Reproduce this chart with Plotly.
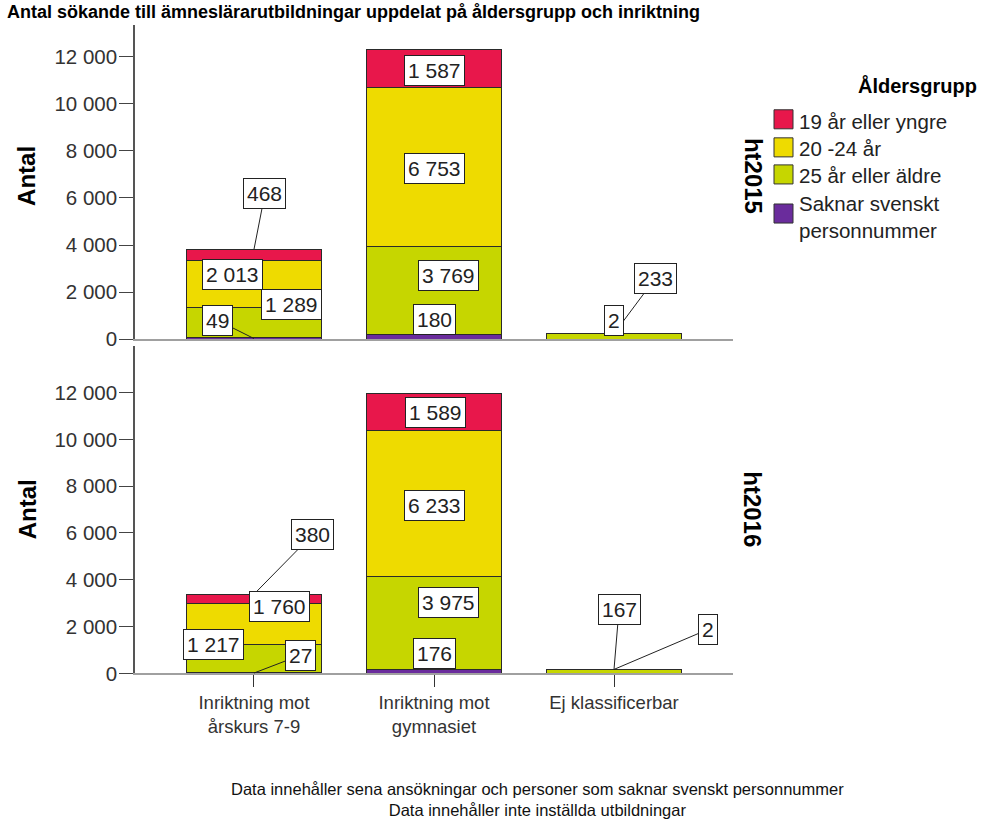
import plotly.graph_objects as go

# ---------------- data ----------------
categories = ["Inriktning mot<br>årskurs 7-9", "Inriktning mot<br>gymnasiet", "Ej klassificerbar"]
periods = ["ht2015", "ht2016"]
age_groups = ["Saknar svenskt personnummer", "25 år eller äldre", "20 -24 år", "19 år eller yngre"]  # bottom -> top
legend_labels = ["19 år eller yngre", "20 -24 år", "25 år eller äldre", "Saknar svenskt<br>personnummer"]

saknar_2015 = [49, 180, 0]
age25_2015 = [1289, 3769, 233]
age20_2015 = [2013, 6753, 2]
age19_2015 = [468, 1587, 0]

saknar_2016 = [27, 176, 0]
age25_2016 = [1217, 3975, 167]
age20_2016 = [1760, 6233, 2]
age19_2016 = [380, 1589, 0]

y_ticks = [0, 2000, 4000, 6000, 8000, 10000, 12000]

title_text = "Antal sökande till ämneslärarutbildningar uppdelat på åldersgrupp och inriktning"
note_text = ("Data innehåller sena ansökningar och personer som saknar svenskt personnummer<br>"
             "Data innehåller inte inställda utbildningar")

# ---------------- styling ----------------
W = 994
H_TARGET = 821
H = 834          # the snapshot squeezes the page height slightly; compensate


def px(page_x):
    return page_x / W


def py(page_y):
    return 1 - page_y / H_TARGET


colors = {
    "Saknar svenskt personnummer": "#6A2C9C",
    "25 år eller äldre": "#C6D600",
    "20 -24 år": "#EEDB00",
    "19 år eller yngre": "#E8174B",
}
legend_colors = [colors["19 år eller yngre"], colors["20 -24 år"], colors["25 år eller äldre"],
                 colors["Saknar svenskt personnummer"]]
FONT = "Arial, Liberation Sans, sans-serif"

series = {
    "ht2015": [saknar_2015, age25_2015, age20_2015, age19_2015],
    "ht2016": [saknar_2016, age25_2016, age20_2016, age19_2016],
}

# label placement: (period, category index, group index) -> (anchor, arrow, dx, dy) in pixels
label_pos = {
    ("ht2015", 0, 3): ("top", True, 11, -56),
    ("ht2015", 0, 2): ("mid", False, -21, -9),
    ("ht2015", 0, 1): ("mid", False, 38, -18),
    ("ht2015", 0, 0): ("mid", True, -36, -18),
    ("ht2015", 1, 3): ("mid", False, 0, 2),
    ("ht2015", 1, 2): ("mid", False, 0, 2),
    ("ht2015", 1, 1): ("mid", False, 14, -15),
    ("ht2015", 1, 0): ("mid", False, 0, -18),
    ("ht2015", 2, 1): ("top", True, 41, -55),
    ("ht2015", 2, 2): ("mid", False, 0, -13),
    ("ht2016", 0, 3): ("top", True, 59, -60),
    ("ht2016", 0, 2): ("mid", False, 26, -17),
    ("ht2016", 0, 1): ("mid", False, -40, -14),
    ("ht2016", 0, 0): ("mid", True, 47, -18),
    ("ht2016", 1, 3): ("mid", False, 1, 1),
    ("ht2016", 1, 2): ("mid", False, 0, 2),
    ("ht2016", 1, 1): ("mid", False, 14, -20),
    ("ht2016", 1, 0): ("mid", False, 0, -18),
    ("ht2016", 2, 1): ("top", True, 5, -60),
    ("ht2016", 2, 2): ("mid", True, 94, -40),
}

x_dom = [px(135), px(733)]
PX_PER_UNIT = 0.02347
y_max = {"ht2015": 13350, "ht2016": 14000}
y_doms = {"ht2015": [py(338.3), py(338.3 - y_max["ht2015"] * PX_PER_UNIT)],
          "ht2016": [py(671.7), py(345)]}
axis_names = {"ht2015": ("x", "y"), "ht2016": ("x2", "y2")}


def fmt(v):
    return f"{v:,}".replace(",", " ")


fig = go.Figure()
arrow_anns, plain_anns = [], []

for period in periods:
    xa, ya = axis_names[period]
    vals = series[period]
    for gi, group in enumerate(age_groups):
        fig.add_trace(go.Bar(
            x=categories, y=vals[gi], name=group, xaxis=xa, yaxis=ya,
            marker=dict(color=colors[group], line=dict(color="#2a2a2a", width=1)),
            width=0.75, showlegend=False, hoverinfo="skip",
        ))
    for ci, cat in enumerate(categories):
        base = 0
        for gi, group in enumerate(age_groups):
            v = vals[gi][ci]
            key = (period, ci, gi)
            if v > 0 and key in label_pos:
                anchor, arrow, dx, dy = label_pos[key]
                yv = base + v if anchor == "top" else base + v / 2
                common = dict(
                    x=cat, y=yv, xref=xa, yref=ya, text=fmt(v),
                    font=dict(family=FONT, size=21, color="#222"),
                    bgcolor="white", bordercolor="#222", borderwidth=1, borderpad=3,
                )
                if arrow:
                    arrow_anns.append(dict(common, showarrow=True, arrowhead=0, arrowwidth=1,
                                           arrowcolor="#222", ax=dx, ay=dy, standoff=0))
                else:
                    plain_anns.append(dict(common, showarrow=False, xshift=dx, yshift=-dy,
                                           xanchor="center", yanchor="middle"))
            base += v

annotations = arrow_anns + plain_anns

# axis titles and facet labels
facet_mid = {"ht2015": 175.5, "ht2016": 508}
for period in periods:
    annotations.append(dict(x=px(27), y=py(facet_mid[period]), xref="paper", yref="paper",
                            xanchor="center", yanchor="middle", text="<b>Antal</b>",
                            textangle=-90, showarrow=False,
                            font=dict(family=FONT, size=24, color="black")))
    annotations.append(dict(x=px(753), y=py(facet_mid[period]), xref="paper", yref="paper",
                            xanchor="center", yanchor="middle", text=f"<b>{period}</b>",
                            textangle=90, showarrow=False,
                            font=dict(family=FONT, size=24, color="black")))

# title
annotations.append(dict(x=px(5), y=py(0), xref="paper", yref="paper", xanchor="left",
                        yanchor="top", text=f"<b>{title_text}</b>", showarrow=False,
                        font=dict(family=FONT, size=18, color="black")))

# footnote
annotations.append(dict(x=px(537), y=py(798), xref="paper", yref="paper", xanchor="center",
                        yanchor="middle", text=note_text, showarrow=False,
                        font=dict(family=FONT, size=16.5, color="#111")))

# legend
annotations.append(dict(x=px(917), y=py(85), xref="paper", yref="paper", xanchor="center",
                        yanchor="middle", text="<b>Åldersgrupp</b>", showarrow=False,
                        font=dict(family=FONT, size=20, color="black")))
shapes = []
swatch_centers = [119, 147, 174, 213]
text_centers = [121, 148, 175, 216]
for lbl, col, sc, tc in zip(legend_labels, legend_colors, swatch_centers, text_centers):
    shapes.append(dict(type="rect", xref="paper", yref="paper",
                       x0=px(774), x1=px(793), y0=py(sc + 9.5), y1=py(sc - 9.5),
                       fillcolor=col, line=dict(color="#333", width=1)))
    annotations.append(dict(x=px(797), y=py(tc), xref="paper", yref="paper", xanchor="left",
                            yanchor="middle", align="left", text=lbl, showarrow=False,
                            font=dict(family=FONT, size=20.5, color="#222")))

yaxis_common = dict(
    tickvals=y_ticks, ticktext=[fmt(t) for t in y_ticks], ticks="outside", ticklen=14,
    tickcolor="#444", showline=True, linecolor="#555", linewidth=1.5, showgrid=False,
    zeroline=False, ticklabelstandoff=-2, tickfont=dict(family=FONT, size=20.5, color="#333"),
)
xaxis_common = dict(
    domain=x_dom, range=[-0.661, 2.661], showline=True, linecolor="#a0a0a0", linewidth=1.5,
    showgrid=False, zeroline=False, type="category",
)

fig.update_layout(
    width=W, height=H, margin=dict(l=0, r=0, t=0, b=0),
    paper_bgcolor="white", plot_bgcolor="white", barmode="stack",
    showlegend=False,
    xaxis=dict(xaxis_common, anchor="y", showticklabels=False, ticks=""),
    xaxis2=dict(xaxis_common, anchor="y2", ticks="outside", ticklen=12, tickcolor="#333",
                ticklabelstandoff=0, tickfont=dict(family=FONT, size=18.5, color="#333")),
    yaxis=dict(yaxis_common, domain=y_doms["ht2015"], range=[0, y_max["ht2015"]], anchor="x"),
    yaxis2=dict(yaxis_common, domain=y_doms["ht2016"], range=[0, y_max["ht2016"]], anchor="x2"),
    annotations=annotations,
    shapes=shapes,
)

fig.write_html("out.html", config={"displayModeBar": False},
               post_script="document.body.style.margin='0';document.body.style.overflow='hidden';")
